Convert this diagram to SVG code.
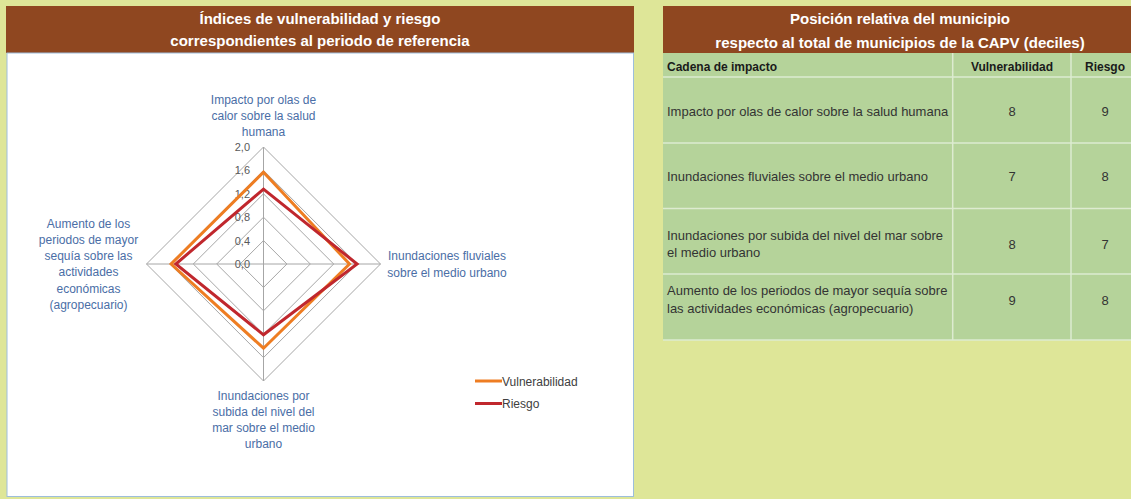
<svg xmlns="http://www.w3.org/2000/svg" width="1131" height="499" viewBox="0 0 1131 499">
<style>
.title{font-family:"Liberation Sans",Arial,sans-serif;font-size:15px;font-weight:bold;fill:#ffffff;text-anchor:middle}
.lbl{font-family:"Liberation Sans",Arial,sans-serif;font-size:12px;fill:#4A6EA6;text-anchor:middle}
.tick{font-family:"Liberation Sans",Arial,sans-serif;font-size:11px;fill:#595959;text-anchor:end}
.leg{font-family:"Liberation Sans",Arial,sans-serif;font-size:12px;fill:#404040}
.th{font-family:"Liberation Sans",Arial,sans-serif;font-size:12px;font-weight:bold;fill:#1a1a1a}
.td{font-family:"Liberation Sans",Arial,sans-serif;font-size:13px;fill:#333333}
.num{font-family:"Liberation Sans",Arial,sans-serif;font-size:13px;fill:#333333;text-anchor:middle}
.grid{fill:none;stroke:#A6A6A6;stroke-width:1}
.vul{fill:none;stroke:#EE7D22;stroke-width:3;stroke-linejoin:miter}
.rie{fill:none;stroke:#C0272D;stroke-width:3;stroke-linejoin:miter}
.hdr{fill:#8F4720}
.cell{stroke:#DDEBD0;stroke-width:1.5}
</style>
<rect x="0" y="0" width="1131" height="499" fill="#DEE698"/>

<g id="left-panel">
  <rect class="hdr" x="6" y="6" width="628" height="47"/>
  <rect x="7" y="53" width="626.5" height="443.5" fill="#ffffff" stroke="#9DBEDC" stroke-width="1"/>
  <text class="title" x="320" y="24">Índices de vulnerabilidad y riesgo</text>
  <text class="title" x="320" y="46">correspondientes al periodo de referencia</text>
</g>

<g id="radar-chart">
  <g id="grid">
    <polygon class="grid" points="263.5,147 380.5,264 263.5,381 146.5,264"/>
    <polygon class="grid" points="263.5,170.4 357.1,264 263.5,357.6 169.9,264"/>
    <polygon class="grid" points="263.5,193.8 333.7,264 263.5,334.2 193.3,264"/>
    <polygon class="grid" points="263.5,217.2 310.3,264 263.5,310.8 216.7,264"/>
    <polygon class="grid" points="263.5,240.6 286.9,264 263.5,287.4 240.1,264"/>
    <line class="grid" x1="263.5" y1="147" x2="263.5" y2="381"/>
    <line class="grid" x1="146.5" y1="264" x2="380.5" y2="264"/>
  </g>
  <g id="ticks">
    <text class="tick" x="250" y="151">2,0</text>
    <text class="tick" x="250" y="174">1,6</text>
    <text class="tick" x="250" y="197.5">1,2</text>
    <text class="tick" x="250" y="221">0,8</text>
    <text class="tick" x="250" y="244.5">0,4</text>
    <text class="tick" x="250" y="268">0,0</text>
  </g>
  <g id="series">
    <polygon class="vul" points="263.5,172.2 349.5,264 263.5,348.2 171.1,264"/>
    <polygon class="rie" points="263.5,189.1 357.1,264 263.5,334.8 175.8,264"/>
  </g>
  <g id="axis-top">
    <text class="lbl" x="263.5" y="104">Impacto por olas de</text>
    <text class="lbl" x="263.5" y="120">calor sobre la salud</text>
    <text class="lbl" x="263.5" y="136">humana</text>
  </g>
  <g id="axis-right">
    <text class="lbl" x="447" y="260">Inundaciones fluviales</text>
    <text class="lbl" x="447" y="276.5">sobre el medio urbano</text>
  </g>
  <g id="axis-bottom">
    <text class="lbl" x="263.5" y="399.5">Inundaciones por</text>
    <text class="lbl" x="263.5" y="415.5">subida del nivel del</text>
    <text class="lbl" x="263.5" y="431.5">mar sobre el medio</text>
    <text class="lbl" x="263.5" y="447.5">urbano</text>
  </g>
  <g id="axis-left">
    <text class="lbl" x="88.5" y="227.5">Aumento de los</text>
    <text class="lbl" x="88.5" y="244">periodos de mayor</text>
    <text class="lbl" x="88.5" y="260">sequía sobre las</text>
    <text class="lbl" x="88.5" y="276">actividades</text>
    <text class="lbl" x="88.5" y="293">económicas</text>
    <text class="lbl" x="88.5" y="309">(agropecuario)</text>
  </g>
</g>

<g id="legend">
  <line x1="475" y1="381" x2="502" y2="381" stroke="#EE7D22" stroke-width="3"/>
  <text class="leg" x="502" y="385.5">Vulnerabilidad</text>
  <line x1="475" y1="403.5" x2="502" y2="403.5" stroke="#C0272D" stroke-width="3"/>
  <text class="leg" x="502" y="408">Riesgo</text>
</g>

<g id="right-table">
  <rect class="hdr" x="663" y="6" width="480" height="47"/>
  <text class="title" x="900" y="24">Posición relativa del municipio</text>
  <text class="title" x="900" y="48">respecto al total de municipios de la CAPV (deciles)</text>
  <rect x="663" y="53" width="480" height="287" fill="#B5D39A"/>
  <g id="table-lines">
    <line class="cell" x1="663" y1="77" x2="1143" y2="77"/>
    <line class="cell" x1="663" y1="143" x2="1143" y2="143"/>
    <line class="cell" x1="663" y1="208.5" x2="1143" y2="208.5"/>
    <line class="cell" x1="663" y1="274" x2="1143" y2="274"/>
    <line class="cell" x1="663" y1="340" x2="1143" y2="340"/>
    <line class="cell" x1="952.7" y1="53" x2="952.7" y2="340"/>
    <line class="cell" x1="1071" y1="53" x2="1071" y2="340"/>
  </g>
  <g id="row-header">
    <text class="th" x="667" y="71">Cadena de impacto</text>
    <text class="th" x="1012" y="71" text-anchor="middle">Vulnerabilidad</text>
    <text class="th" x="1105" y="71" text-anchor="middle">Riesgo</text>
  </g>
  <g id="row-1">
    <text class="td" x="667" y="115.5">Impacto por olas de calor sobre la salud humana</text>
    <text class="num" x="1012" y="115.5">8</text>
    <text class="num" x="1105" y="115.5">9</text>
  </g>
  <g id="row-2">
    <text class="td" x="667" y="180.5">Inundaciones fluviales sobre el medio urbano</text>
    <text class="num" x="1012" y="180.5">7</text>
    <text class="num" x="1105" y="180.5">8</text>
  </g>
  <g id="row-3">
    <text class="td" x="667" y="239.5">Inundaciones por subida del nivel del mar sobre</text>
    <text class="td" x="667" y="257">el medio urbano</text>
    <text class="num" x="1012" y="248.5">8</text>
    <text class="num" x="1105" y="248.5">7</text>
  </g>
  <g id="row-4">
    <text class="td" x="667" y="295">Aumento de los periodos de mayor sequía sobre</text>
    <text class="td" x="667" y="312.5">las actividades económicas (agropecuario)</text>
    <text class="num" x="1012" y="304.5">9</text>
    <text class="num" x="1105" y="304.5">8</text>
  </g>
</g>
</svg>
